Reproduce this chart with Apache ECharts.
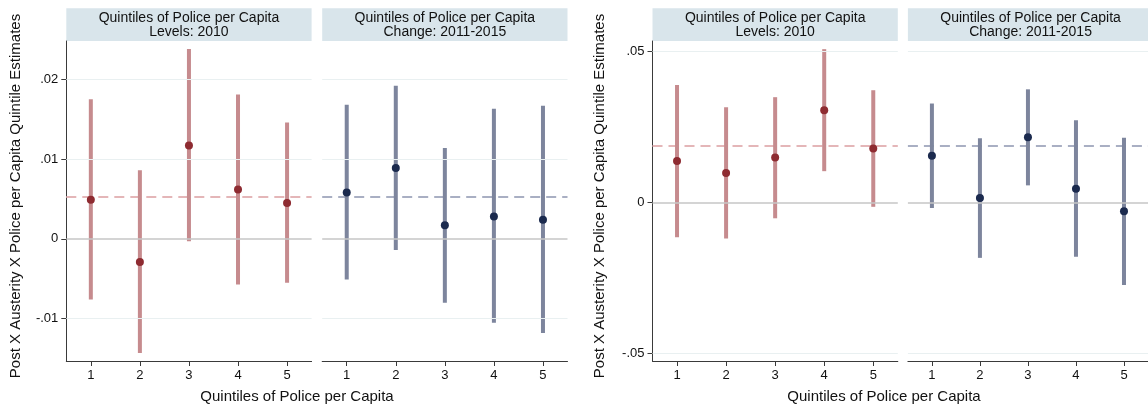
<!DOCTYPE html>
<html>
<head>
<meta charset="utf-8">
<script src="https://cdn.jsdelivr.net/npm/echarts@6.0.0/dist/echarts.min.js"></script>
<style>
html,body{margin:0;padding:0;background:#fff;}
#chart{width:1148px;height:406px;}
</style>
</head>
<body>
<div id="chart"></div>
<script>
// ---------- DATA ----------
const quintiles = ['1', '2', '3', '4', '5'];
const headerLevels = ['Quintiles of Police per Capita', 'Levels: 2010'];
const headerChange = ['Quintiles of Police per Capita', 'Change: 2011-2015'];
const xTitle = 'Quintiles of Police per Capita';
const yTitle = 'Post X Austerity X Police per Capita Quintile Estimates';

// Figure 1 (left)
const f1LevelsEst = [0.0049, -0.0029, 0.0117, 0.0062, 0.0045];
const f1LevelsLo  = [-0.0076, -0.0143, -0.0003, -0.0057, -0.0055];
const f1LevelsHi  = [0.0175, 0.0086, 0.0238, 0.0181, 0.0146];
const f1ChangeEst = [0.0058, 0.0089, 0.0017, 0.0028, 0.0024];
const f1ChangeLo  = [-0.0051, -0.0014, -0.0080, -0.0105, -0.0118];
const f1ChangeHi  = [0.0168, 0.0192, 0.0114, 0.0163, 0.0167];
const f1Mean = 0.00526;
const f1YTicks = [-0.01, 0, 0.01, 0.02];
const f1YRange = [-0.0153, 0.0248];

// Figure 2 (right)
const f2LevelsEst = [0.0137, 0.0097, 0.0148, 0.0305, 0.0178];
const f2LevelsLo  = [-0.0116, -0.0120, -0.0053, 0.0103, -0.0015];
const f2LevelsHi  = [0.0388, 0.0315, 0.0348, 0.0507, 0.0371];
const f2ChangeEst = [0.0154, 0.0014, 0.0215, 0.0045, -0.0030];
const f2ChangeLo  = [-0.0019, -0.0184, 0.0056, -0.0180, -0.0274];
const f2ChangeHi  = [0.0327, 0.0212, 0.0374, 0.0272, 0.0214];
const f2Mean = 0.01887;
const f2YTicks = [-0.05, 0, 0.05];
const f2YRange = [-0.05255, 0.0534];

// ---------- STYLE / LAYOUT ----------
const RED = {bar: '#c68b8e', pt: '#8e2b31', dash: '#e4b6b8'};
const BLUE = {bar: '#7d859d', pt: '#1b2a4e', dash: '#a9afc3'};
const FONT = '"Liberation Sans", Arial, Helvetica, sans-serif';
const PW = 245.3, TOP = 41, PH = 320;

const panels = [
  {left: 66.3,  header: headerLevels, est: f1LevelsEst, lo: f1LevelsLo, hi: f1LevelsHi, mean: f1Mean, col: RED,  ticks: f1YTicks, range: f1YRange, showY: true},
  {left: 322.2, header: headerChange, est: f1ChangeEst, lo: f1ChangeLo, hi: f1ChangeHi, mean: f1Mean, col: BLUE, ticks: f1YTicks, range: f1YRange, showY: false},
  {left: 652.5, header: headerLevels, est: f2LevelsEst, lo: f2LevelsLo, hi: f2LevelsHi, mean: f2Mean, col: RED,  ticks: f2YTicks, range: f2YRange, showY: true},
  {left: 907.9, header: headerChange, est: f2ChangeEst, lo: f2ChangeLo, hi: f2ChangeHi, mean: f2Mean, col: BLUE, ticks: f2YTicks, range: f2YRange, showY: false}
];

function fmt(v) {
  if (Math.abs(v) < 1e-12) return '0';
  return (v < 0 ? '-' : '') + Math.abs(v).toFixed(2).replace(/^0/, '');
}

const grids = [], xAxes = [], yAxes = [], series = [], graphics = [];

panels.forEach((p, i) => {
  grids.push({left: p.left, top: TOP, width: PW, height: PH, containLabel: false});
  xAxes.push({
    type: 'category', gridIndex: i, data: quintiles, boundaryGap: true,
    axisLine: {show: true, onZero: false, lineStyle: {color: '#3a3a3a', width: 1}},
    axisTick: {show: true, alignWithLabel: true, length: 5, lineStyle: {color: '#3a3a3a'}},
    axisLabel: {show: true, margin: 8, fontSize: 13, color: '#111', fontFamily: FONT},
    splitLine: {show: false}
  });
  yAxes.push({
    type: 'value', gridIndex: i, min: p.range[0], max: p.range[1],
    axisLine: {show: p.showY, onZero: false, lineStyle: {color: '#3a3a3a', width: 1}},
    axisTick: {show: p.showY, length: 5, customValues: p.ticks, lineStyle: {color: '#3a3a3a'}},
    axisLabel: {show: p.showY, margin: 8, fontSize: 13, color: '#111', fontFamily: FONT,
                customValues: p.ticks, formatter: fmt},
    splitLine: {show: false}
  });
  // grid lines + zero line
  series.push({
    type: 'line', xAxisIndex: i, yAxisIndex: i, data: [], z: 1, silent: true,
    markLine: {
      silent: true, symbol: 'none', animation: false, label: {show: false}, precision: 6,
      data: p.ticks.map(v => ({yAxis: v, lineStyle: {color: v === 0 ? '#c6c6c6' : '#e9f0f1', width: v === 0 ? 1.5 : 1.2, type: 'solid'}}))
    }
  });
  // confidence intervals
  series.push({
    type: 'custom', xAxisIndex: i, yAxisIndex: i, z: 3, silent: true,
    data: p.est.map((e, k) => [k, p.lo[k], p.hi[k]]),
    renderItem: function (params, api) {
      const a = api.coord([api.value(0), api.value(1)]);
      const b = api.coord([api.value(0), api.value(2)]);
      return {type: 'line', shape: {x1: a[0], y1: a[1], x2: b[0], y2: b[1]},
              style: {stroke: p.col.bar, lineWidth: 4, lineCap: 'butt'}};
    }
  });
  // point estimates + mean dashed line
  series.push({
    type: 'scatter', xAxisIndex: i, yAxisIndex: i, z: 4, symbolSize: 8, silent: true,
    itemStyle: {color: p.col.pt, opacity: 1},
    data: p.est.map((e, k) => [k, e]),
    markLine: {
      silent: true, symbol: 'none', animation: false, label: {show: false}, z: 2, precision: 6,
      lineStyle: {color: p.col.dash, width: 2, type: [10, 6]},
      data: [{yAxis: p.mean}]
    }
  });
  // header strip
  graphics.push({
    type: 'group', left: p.left, top: 8.3, silent: true,
    children: [
      {type: 'rect', shape: {x: 0, y: 0, width: PW, height: 32.7}, style: {fill: '#d9e5eb'}},
      {type: 'text', x: PW / 2, y: 9.5, style: {text: p.header[0], fill: '#111', font: '14px ' + FONT, align: 'center', verticalAlign: 'middle'}},
      {type: 'text', x: PW / 2, y: 23.5, style: {text: p.header[1], fill: '#111', font: '14px ' + FONT, align: 'center', verticalAlign: 'middle'}}
    ]
  });
});

// axis titles
[[16, 196], [600, 196]].forEach(([x, y]) => {
  graphics.push({type: 'text', x: x, y: y, rotation: Math.PI / 2, silent: true,
    style: {text: yTitle, fill: '#111', font: '15px ' + FONT, align: 'center', verticalAlign: 'middle'}});
});
[[297, 397], [884, 397]].forEach(([x, y]) => {
  graphics.push({type: 'text', x: x, y: y, silent: true,
    style: {text: xTitle, fill: '#111', font: '15px ' + FONT, align: 'center', verticalAlign: 'middle'}});
});

const chart = echarts.init(document.getElementById('chart'), null, {renderer: 'canvas'});
chart.setOption({
  animation: false,
  backgroundColor: '#ffffff',
  grid: grids, xAxis: xAxes, yAxis: yAxes, series: series, graphic: graphics
});
</script>
</body>
</html>
